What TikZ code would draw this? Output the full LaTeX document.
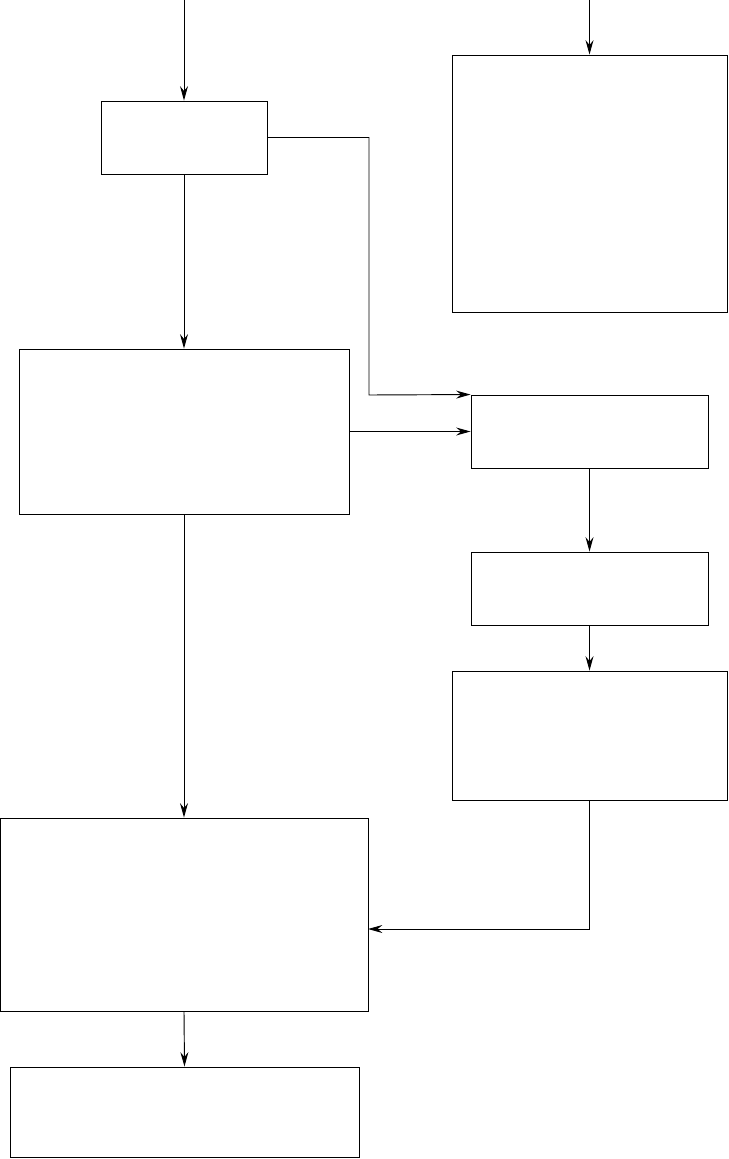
\documentclass[tikz,border=0pt]{standalone}
\usetikzlibrary{arrows.meta, positioning, calc}
\tikzset{
  bloco/.style 2 args = {draw=black, fill=white, inner sep=0pt,
    minimum width=#1, minimum height=#2, line width=0.7pt},
  lig/.style = {draw=black, line width=0.7pt},
  seta/.style = {-{Stealth[length=3.8mm, width=2.1mm, inset=1.3mm]},
    line width=0.7pt}
}

\begin{document}
\begin{tikzpicture}[x=0.75pt, y=-0.75pt]
  \useasboundingbox (0,0) rectangle (728,1159);
  % entradas
  \coordinate (in0) at (184,0);
  \coordinate (in1) at (589.5,0);
  % blocos
  \node [bloco={124.5pt}{54.75pt}] (a) at (184,137.5) {};
  \node [bloco={206.25pt}{192.75pt}] (b) at (589.5,183.5) {};
  \node [bloco={247.5pt}{123.75pt}] (c) at (184,431.5) {};
  \node [bloco={177.75pt}{54.75pt}] (d) at (589.5,431.5) {};
  \node [bloco={177.75pt}{54.75pt}] (e) at (589.5,588.5) {};
  \node [bloco={206.25pt}{96.75pt}] (f) at (589.5,735.5) {};
  \node [bloco={276pt}{144.75pt}] (g) at (184,914.5) {};
  \node [bloco={261.75pt}{67.5pt}] (h) at (184.5,1112) {};
  % pontos de dobra
  \coordinate (ka) at (369,137.5);
  \coordinate (kd) at (369,395);
  \coordinate (kf) at (589.5,929);
  \coordinate (kg) at (368,929);
  % ligações
  \draw [seta] (in0) -- (a.north);
  \draw [seta] (in1) -- (b.north);
  \draw [seta] (a.south) -- (c.north);
  \draw [seta] (a.east) -- (ka) -- (kd) -- (d.north west);
  \draw [seta] (c.east) -- (d.west);
  \draw [seta] (d.south) -- (e.north);
  \draw [seta] (e.south) -- (f.north);
  \draw [seta] (f.south) -- (kf) -- (kg);
  \draw [seta] (c.south) -- (g.north);
  \draw [seta] (g.south) -- (h.north);
\end{tikzpicture}
\end{document}
